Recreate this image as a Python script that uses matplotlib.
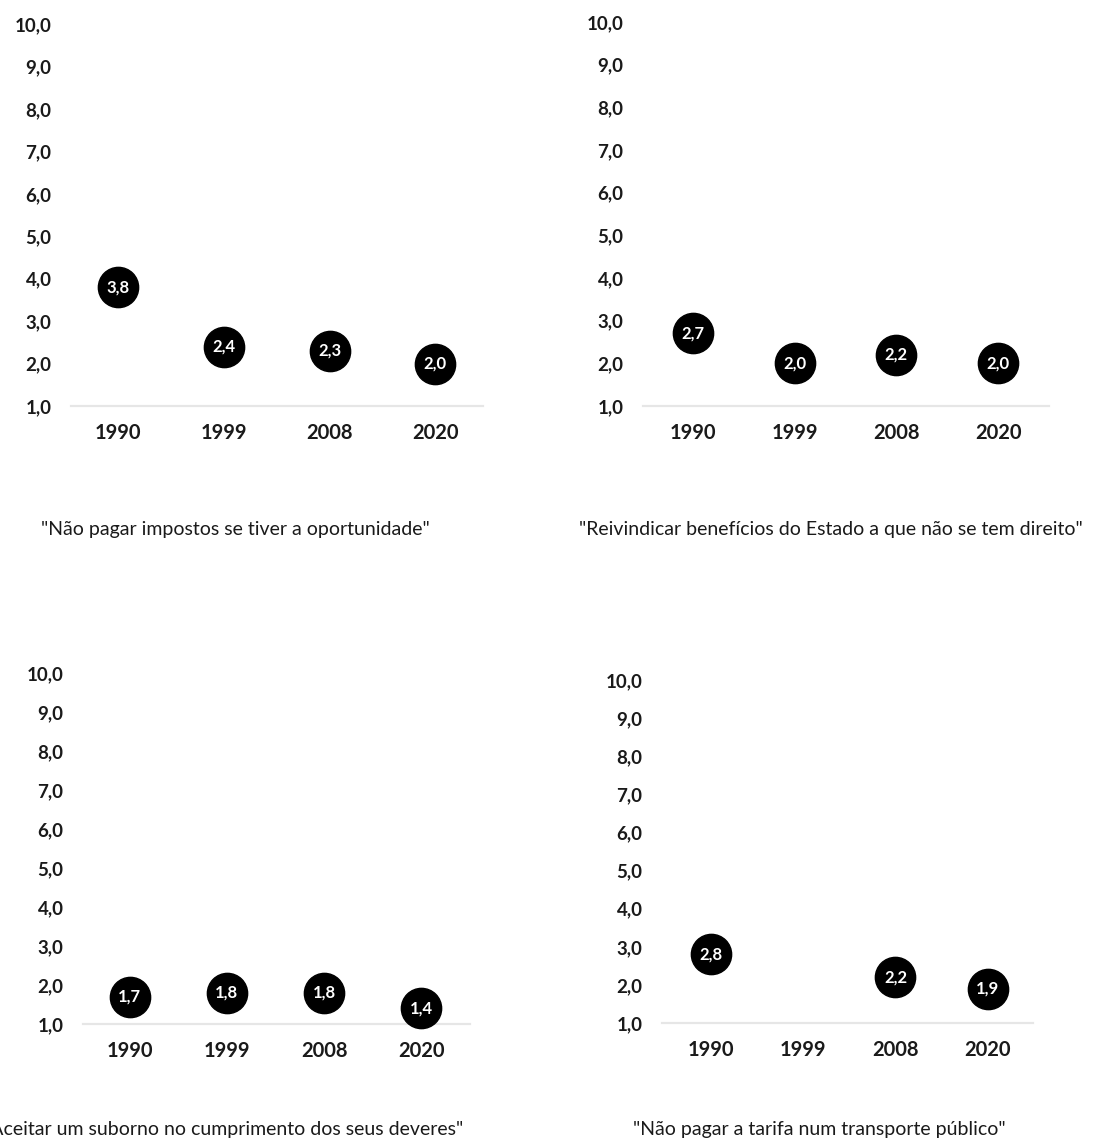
import matplotlib
matplotlib.use("Agg")
import matplotlib.pyplot as plt
import numpy as np

plt.rcParams['font.family'] = ['Lato', 'DejaVu Sans']

years = ["1990", "1999", "2008", "2020"]
yticks = [1, 2, 3, 4, 5, 6, 7, 8, 9, 10]

tax_values = [3.8, 2.4, 2.3, 2.0]
benefits_values = [2.7, 2.0, 2.2, 2.0]
bribe_values = [1.7, 1.8, 1.8, 1.4]
fare_values = [2.8, np.nan, 2.2, 1.9]

captions = [
    '"Não pagar impostos se tiver a oportunidade"',
    '"Reivindicar benefícios do Estado a que não se tem direito"',
    '"Aceitar um suborno no cumprimento dos seus deveres"',
    '"Não pagar a tarifa num transporte público"',
]
series = [tax_values, benefits_values, bribe_values, fare_values]

W, H = 1105, 1140
fig = plt.figure(figsize=(W / 100, H / 100), dpi=100)

# panel layout in pixels: (x_left, x_right, y_top(10), y_bottom(1), xlim0, xlim1, caption_x, caption_y)
panels = [
    (71, 483, 24, 406, -0.445, 3.45, 235, 529),
    (643, 1049, 22, 406, -0.49, 3.5, 831, 529),
    (83, 470, 673, 1024, -0.48, 3.5, 223, 1130),
    (662, 1033, 680, 1023, -0.53, 3.49, 819, 1129),
]

for (xl, xr, yt, yb, x0, x1, cx, cy), vals, cap in zip(panels, series, captions):
    ax = fig.add_axes([xl / W, 1 - yb / H, (xr - xl) / W, (yb - yt) / H])
    ax.set_xlim(x0, x1)
    ax.set_ylim(1, 10)
    for s in ax.spines.values():
        s.set_visible(False)
    ax.axhline(1, color='#e6e6e6', lw=1.6, zorder=1, clip_on=False)
    idx = np.arange(len(years))
    ax.plot(idx, vals, 'o', ms=29, color='black', mec='black', ls='none',
            zorder=3, clip_on=False)
    for i, v in zip(idx, vals):
        if np.isnan(v):
            continue
        ax.text(i, v, f"{v:.1f}".replace('.', ','), color='white', fontsize=12,
                fontweight='bold', ha='center', va='center', zorder=4)
    ax.set_xticks(idx)
    ax.set_xticklabels(years)
    ax.set_yticks(yticks)
    ax.set_yticklabels([f"{t:.1f}".replace('.', ',') for t in yticks])
    ax.tick_params(axis='x', length=0, pad=12, labelsize=14.5, colors='#1a1a1a')
    ax.tick_params(axis='y', length=0, pad=14, labelsize=13.5, colors='#1a1a1a')
    for lab in ax.get_xticklabels() + ax.get_yticklabels():
        lab.set_fontweight('bold')
    ax.patch.set_alpha(0)
    fig.text(cx / W, 1 - cy / H, cap, ha='center', va='center', fontsize=14,
             color='#1a1a1a')

fig.savefig("out.png", dpi=100)
